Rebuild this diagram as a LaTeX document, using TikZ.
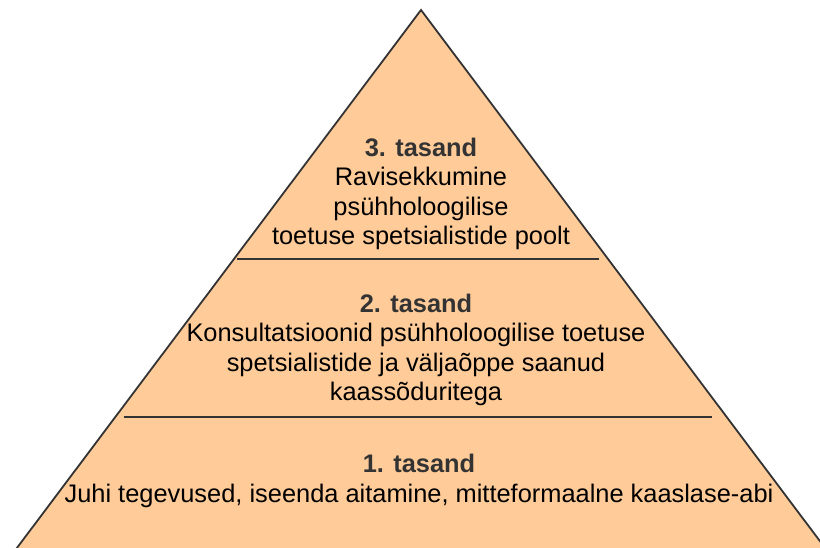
\documentclass[tikz,border=0pt]{standalone}
\usepackage{fontspec}
\setmainfont{Liberation Sans}
\definecolor{peach}{HTML}{FFCC99}
\definecolor{edge}{HTML}{333333}
\definecolor{headc}{HTML}{333333}
\begin{document}
\begin{tikzpicture}[x=1pt,y=-1pt,
  tiertext/.style={align=center,inner sep=0pt,font=\fontsize{25.4}{29.2}\selectfont,text=black},
  divider/.style={draw=edge,line width=1.4pt}]
\useasboundingbox (0,0) rectangle (820,548);
\clip (0,0) rectangle (820,548);
\coordinate (apex) at (421,10);
\coordinate (bl) at (7.9,560);
\coordinate (br) at (834.1,560);
\draw[fill=peach,draw=edge,line width=1.8pt,line join=miter] (bl) -- (apex) -- (br) -- cycle;
\coordinate (d1a) at (237,259);
\coordinate (d1b) at (599,259);
\coordinate (d2a) at (124,417);
\coordinate (d2b) at (712,417);
\draw[divider] (d1a) -- (d1b);
\draw[divider] (d2a) -- (d2b);
\node[tiertext] (t3) at (421,194) {{\bfseries\color{headc}3. tasand}\\Ravisekkumine\\psühholoogilise\\toetuse spetsialistide poolt};
\node[tiertext] (t2) at (416,350) {{\bfseries\color{headc}2. tasand}\\Konsultatsioonid psühholoogilise toetuse\\spetsialistide ja väljaõppe saanud\\kaassõduritega};
\node[tiertext] (t1) at (419,481) {{\bfseries\color{headc}1. tasand}\\Juhi tegevused, iseenda aitamine, mitteformaalne kaaslase-abi};
\end{tikzpicture}
\end{document}
